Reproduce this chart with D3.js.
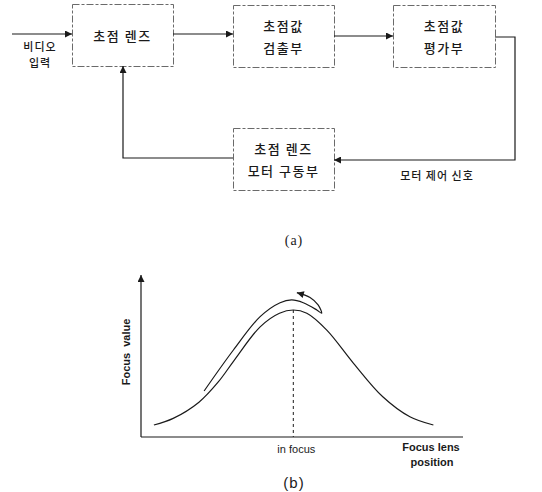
<!DOCTYPE html>
<html>
<head>
<meta charset="utf-8">
<script src="https://cdn.jsdelivr.net/npm/d3@7/dist/d3.min.js"></script>
<style>
  html, body { margin: 0; padding: 0; background: #fff; }
  svg { display: block; }
</style>
</head>
<body>
<svg id="fig" width="542" height="492"></svg>
<script>
// (a) block labels
const blockLabels = [
  ["초점 렌즈"],
  ["초점값", "검출부"],
  ["초점값", "평가부"],
  ["초점 렌즈", "모터 구동부"]
];
const inputLabel = ["비디오", "입력"];
const signalLabel = "모터 제어 신호";

// (b) focus value curve: lens position vs. focus value
const lensPos  = [4, 10, 18, 24, 29, 37, 43, 47.3, 51.5, 57.7, 66, 75, 83.5, 90.8];
const focusVal = [7.4, 11.5, 21.5, 34, 47.5, 68, 76.4, 78.4, 76.4, 66, 45.5, 25, 12.5, 7.4];

// hill-climbing search trace (passes the peak, turns back)
const tracePos = [19.6, 28.7, 37, 43.2, 46.8, 50.4, 54.6, 56.1, 55, 52.5, 48.4];
const traceVal = [28.4, 53.7, 74.3, 82.9, 84.6, 82.9, 78.4, 76.4, 81.5, 86.1, 89.1];
const peakPos = 47.3;
const peakVal = 78.4;

const xTitle = ["Focus lens", "position"];
const yTitle = "Focus value";
const xTickLabel = "in focus";

const svg = d3.select("#fig");
const ink = "#1a1a1a";
const kr = "'Noto Sans CJK KR', 'Noto Sans', sans-serif";
const lat = "'Liberation Sans', Arial, sans-serif";

const defs = svg.append("defs");
defs.append("marker")
  .attr("id", "arr").attr("viewBox", "0 0 10 10")
  .attr("refX", 10).attr("refY", 5)
  .attr("markerWidth", 8).attr("markerHeight", 7)
  .attr("markerUnits", "userSpaceOnUse")
  .attr("orient", "auto")
  .append("path").attr("d", "M0,0L10,5L0,10Z").attr("fill", ink);

// ---------- (a) block diagram ----------
const boxes = [
  {x: 72,  y: 4,   w: 101, h: 62},
  {x: 233, y: 5,   w: 101, h: 62},
  {x: 393, y: 5,   w: 102, h: 62},
  {x: 233, y: 128, w: 101, h: 62}
];

const g = svg.append("g");
boxes.forEach((b, i) => {
  g.append("rect")
    .attr("x", b.x + 0.5).attr("y", b.y + 0.5)
    .attr("width", b.w).attr("height", b.h)
    .attr("fill", "none").attr("stroke", "#6a6a6a")
    .attr("stroke-width", 1).attr("stroke-dasharray", "7,2,3,2");
  const lines = blockLabels[i];
  const cy = b.y + b.h / 2;
  lines.forEach((t, j) => {
    const dy = lines.length === 1 ? 0 : (j === 0 ? -11 : 11);
    g.append("text")
      .attr("x", b.x + b.w / 2).attr("y", cy + dy)
      .attr("text-anchor", "middle").attr("dominant-baseline", "central")
      .attr("font-family", kr).attr("font-size", 13).attr("font-weight", 500)
      .attr("letter-spacing", 1.5)
      .attr("fill", ink).text(t);
  });
});

const line = (pts, arrow) => {
  g.append("path")
    .attr("d", d3.line()(pts))
    .attr("fill", "none").attr("stroke", ink).attr("stroke-width", 1.2)
    .attr("marker-end", arrow ? "url(#arr)" : null);
};
line([[12, 34], [72, 34]], true);
line([[173, 34], [233, 34]], true);
line([[334, 36], [393, 36]], true);
line([[495, 37], [515, 37], [515, 160], [334, 160]], true);
line([[233, 158], [123, 158], [123, 66]], true);

inputLabel.forEach((t, j) => {
  g.append("text")
    .attr("x", 40).attr("y", 46 + j * 16)
    .attr("text-anchor", "middle").attr("dominant-baseline", "central")
    .attr("font-family", kr).attr("font-size", 11).attr("font-weight", 500)
    .attr("letter-spacing", 1)
    .attr("fill", ink).text(t);
});
g.append("text")
  .attr("x", 437).attr("y", 175)
  .attr("text-anchor", "middle").attr("dominant-baseline", "central")
  .attr("font-family", kr).attr("font-size", 11).attr("font-weight", 500)
  .attr("letter-spacing", 1)
  .attr("fill", ink).text(signalLabel);

g.append("text")
  .attr("x", 294).attr("y", 240)
  .attr("text-anchor", "middle").attr("dominant-baseline", "central")
  .attr("font-family", "'Liberation Serif', serif").attr("font-size", 14)
  .attr("letter-spacing", 1).attr("fill", ink).text("(a)");

// ---------- (b) focus value curve ----------
const x = d3.scaleLinear().domain([0, 100]).range([141, 463]);
const y = d3.scaleLinear().domain([0, 100]).range([437, 275]);

const gb = svg.append("g");
// axes
gb.append("path")
  .attr("d", d3.line()([[x(0), y(0)], [x(0), y(100)]]))
  .attr("stroke", ink).attr("stroke-width", 1.2).attr("fill", "none")
  .attr("marker-end", "url(#arr)");
gb.append("path")
  .attr("d", d3.line()([[x(0), y(0)], [x(100), y(0)]]))
  .attr("stroke", ink).attr("stroke-width", 1.2).attr("fill", "none");

const curve = d3.line()
  .x(d => x(d[0])).y(d => y(d[1]))
  .curve(d3.curveCatmullRom.alpha(0.5));

gb.append("path")
  .attr("d", curve(d3.zip(lensPos, focusVal)))
  .attr("fill", "none").attr("stroke", ink).attr("stroke-width", 1.2);

gb.append("path")
  .attr("d", curve(d3.zip(tracePos, traceVal)))
  .attr("fill", "none").attr("stroke", ink).attr("stroke-width", 1.2)
  .attr("marker-end", "url(#arr)");

gb.append("line")
  .attr("x1", x(peakPos)).attr("x2", x(peakPos))
  .attr("y1", y(peakVal)).attr("y2", y(0))
  .attr("stroke", ink).attr("stroke-width", 1)
  .attr("stroke-dasharray", "3,3");

gb.append("text")
  .attr("x", x(peakPos) + 3).attr("y", 449)
  .attr("text-anchor", "middle").attr("dominant-baseline", "central")
  .attr("font-family", lat).attr("font-size", 11)
  .attr("fill", ink).text(xTickLabel);

xTitle.forEach((t, j) => {
  gb.append("text")
    .attr("x", j === 0 ? 431 : 432).attr("y", 447 + j * 15)
    .attr("text-anchor", "middle").attr("dominant-baseline", "central")
    .attr("font-family", lat).attr("font-size", 11).attr("font-weight", "bold")
    .attr("fill", ink).text(t);
});

gb.append("text")
  .attr("transform", "translate(126,352) rotate(-90)")
  .attr("text-anchor", "middle").attr("dominant-baseline", "central")
  .attr("font-family", lat).attr("font-size", 11).attr("font-weight", "bold")
  .attr("word-spacing", 3)
  .attr("fill", ink).text(yTitle);

gb.append("text")
  .attr("x", 294).attr("y", 482)
  .attr("text-anchor", "middle").attr("dominant-baseline", "central")
  .attr("font-family", lat).attr("font-size", 15)
  .attr("letter-spacing", 1).attr("fill", ink).text("(b)");
</script>
</body>
</html>
